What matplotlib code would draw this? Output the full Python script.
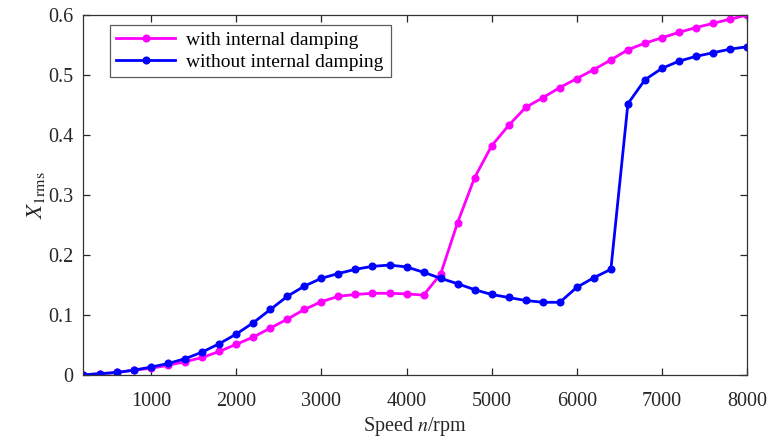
import matplotlib
matplotlib.use("Agg")
import matplotlib.pyplot as plt
import numpy as np

plt.rcParams['font.family'] = ['Liberation Serif', 'DejaVu Serif']
plt.rcParams['mathtext.fontset'] = 'stix'

# rotor speed, rpm
speed = np.arange(200, 8001, 200)

with_damping = [0.000, 0.002, 0.004, 0.008, 0.011, 0.016, 0.022, 0.029, 0.039, 0.051,
                0.063, 0.078, 0.093, 0.109, 0.122, 0.131, 0.134, 0.136, 0.136, 0.135,
                0.133, 0.168, 0.254, 0.329, 0.382, 0.416, 0.446, 0.462, 0.479, 0.494,
                0.509, 0.525, 0.542, 0.553, 0.562, 0.571, 0.579, 0.586, 0.593, 0.600]

without_damping = [0.000, 0.002, 0.004, 0.008, 0.013, 0.019, 0.027, 0.038, 0.052, 0.068,
                   0.087, 0.109, 0.131, 0.148, 0.161, 0.169, 0.176, 0.181, 0.183, 0.180,
                   0.171, 0.161, 0.152, 0.142, 0.134, 0.129, 0.124, 0.121, 0.121, 0.146,
                   0.162, 0.176, 0.452, 0.492, 0.511, 0.523, 0.531, 0.537, 0.543, 0.547]

xticks = [1000, 2000, 3000, 4000, 5000, 6000, 7000, 8000]
yticks = [0, 0.1, 0.2, 0.3, 0.4, 0.5, 0.6]
ytick_labels = ['0', '0.1', '0.2', '0.3', '0.4', '0.5', '0.6']

fig = plt.figure(figsize=(7.71, 4.40), dpi=100)
ax = fig.add_axes([0.1077, 0.148, 0.8613, 0.818])

ax.plot(speed, with_damping, '-o', color='#ff00ff', lw=2.0, ms=4.8,
        label='with internal damping')
ax.plot(speed, without_damping, '-o', color='#0000ff', lw=2.0, ms=4.8,
        label='without internal damping')

ax.set_xlim(200, 8000)
ax.set_ylim(0, 0.6)
ax.set_xticks(xticks)
ax.set_yticks(yticks)
ax.set_yticklabels(ytick_labels)
ax.tick_params(direction='in', top=True, right=True, length=5, width=0.9,
               labelsize=14.5, colors='#262626', labelcolor='#262626')
ax.tick_params(axis='x', pad=12)
ax.tick_params(axis='y', pad=7)
for s in ax.spines.values():
    s.set_linewidth(0.9)
    s.set_color('#333333')

ax.set_xlabel('Speed $\\it{n}$/rpm', fontsize=14.5, color='#262626', labelpad=3)
ax.set_ylabel('$X_{\\mathrm{1rms}}$', fontsize=16.5, color='#262626', labelpad=1)

leg = ax.legend(loc='upper left', bbox_to_anchor=(0.04, 0.973), fontsize=14,
                frameon=True, fancybox=False, edgecolor='#333333',
                handlelength=3.0, borderpad=0.35, labelspacing=0.2,
                handletextpad=0.6, borderaxespad=0)
leg.get_frame().set_linewidth(0.9)

fig.savefig('out.png', dpi=100)
